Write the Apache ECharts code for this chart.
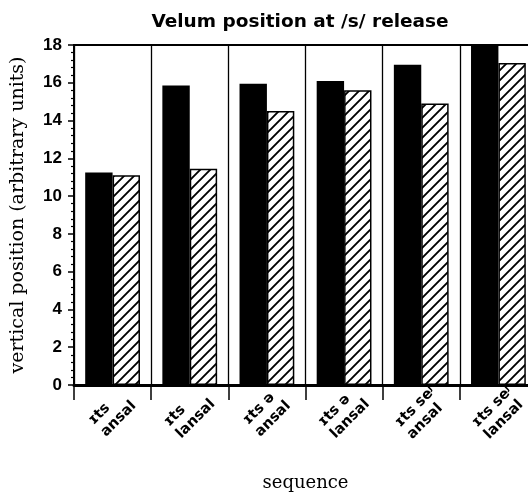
<!DOCTYPE html>
<html>
<head>
<meta charset="utf-8">
<script src="https://cdn.jsdelivr.net/npm/echarts@6/dist/echarts.min.js"></script>
<style>
  html, body { margin: 0; padding: 0; background: #fff; }
  #chart { width: 528px; height: 498px; }
</style>
</head>
<body>
<div id="chart"></div>
<script>
// Velum height at /s/ release for each test sequence
const categories = [
  'ɪts\nansal', 'ɪts\nlansal', 'ɪts ə\nansal',
  'ɪts ə\nlansal', 'ɪts seʲ\nansal', 'ɪts seʲ\nlansal'
];
const solidValues = [11.25, 15.85, 15.95, 16.1, 16.95, 18.0];
const hatchedValues = [11.1, 11.45, 14.5, 15.6, 14.9, 17.05];
const yTicks = { min: 0, max: 18, interval: 2 };

// diagonal hatch tile
function hatchPattern(size) {
  const c = document.createElement('canvas');
  c.width = size; c.height = size;
  const g = c.getContext('2d');
  g.fillStyle = '#fff';
  g.fillRect(0, 0, size, size);
  g.strokeStyle = '#000';
  g.lineWidth = 1.9;
  g.beginPath();
  g.moveTo(-2, size + 2); g.lineTo(size + 2, -2);
  g.moveTo(-2, 2); g.lineTo(2, -2);
  g.moveTo(size - 2, size + 2); g.lineTo(size + 2, size - 2);
  g.stroke();
  return c;
}

// each label line is left-aligned inside its rotated block
function leftLines(value) {
  return value.split('\n').map(function (s) { return '{l|' + s + '}'; }).join('\n');
}

const chart = echarts.init(document.getElementById('chart'), null, { renderer: 'canvas' });

chart.setOption({
  animation: false,
  backgroundColor: '#fff',
  title: {
    text: 'Velum position at /s/ release',
    left: 295, top: 8, textAlign: 'center',
    textStyle: { fontFamily: 'DejaVu Sans', fontWeight: 'bold', fontSize: 18.5, color: '#000' }
  },
  grid: {
    left: 74, top: 45, right: -9, bottom: 113,
    outerBoundsMode: 'none',
    containLabel: false,
    show: true, borderColor: '#000', borderWidth: 2, backgroundColor: 'transparent'
  },
  xAxis: {
    type: 'category',
    data: categories,
    boundaryGap: true,
    name: 'sequence',
    nameLocation: 'middle',
    nameGap: 89,
    nameTextStyle: { fontFamily: 'DejaVu Serif', fontSize: 18, color: '#000' },
    axisLine: { show: true, lineStyle: { color: '#000', width: 3 } },
    axisTick: { show: true, interval: 0, length: 15, lineStyle: { color: '#000', width: 1.5 } },
    splitLine: { show: true, interval: 0, lineStyle: { color: '#000', width: 1.3 } },
    axisLabel: {
      interval: 0, rotate: 45, margin: 28,
      align: 'center', verticalAlign: 'middle',
      formatter: leftLines,
      rich: {
        l: {
          align: 'left',
          fontFamily: 'DejaVu Sans', fontSize: 14.5, fontWeight: 'bold', color: '#000', lineHeight: 17
        }
      },
      fontFamily: 'DejaVu Sans', fontSize: 14.5, fontWeight: 'bold', color: '#000', lineHeight: 17
    }
  },
  yAxis: {
    type: 'value',
    min: yTicks.min, max: yTicks.max, interval: yTicks.interval,
    name: 'vertical position (arbitrary units)',
    nameLocation: 'middle',
    nameGap: 46,
    nameTextStyle: { fontFamily: 'DejaVu Serif', fontSize: 19, color: '#000' },
    axisLine: { show: true, lineStyle: { color: '#000', width: 2 } },
    axisTick: { show: true, length: 6, lineStyle: { color: '#000', width: 1.5 } },
    minorTick: { show: true, splitNumber: 5, length: 3, lineStyle: { color: '#000', width: 1.2 } },
    splitLine: { show: false },
    axisLabel: {
      margin: 12, fontFamily: 'Liberation Sans', fontWeight: 'bold', fontSize: 17, color: '#000'
    }
  },
  series: [
    {
      type: 'bar',
      data: solidValues,
      barGap: '0%',
      barCategoryGap: '29%',
      itemStyle: { color: '#000' }
    },
    {
      type: 'bar',
      data: hatchedValues,
      itemStyle: {
        color: { image: hatchPattern(10), repeat: 'repeat' },
        borderColor: '#000',
        borderWidth: 1.5
      }
    }
  ]
});
</script>
</body>
</html>
